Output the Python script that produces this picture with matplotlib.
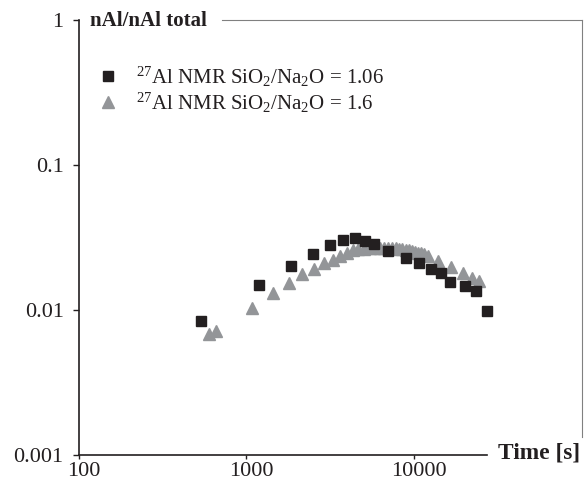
import matplotlib
matplotlib.use('Agg')
import matplotlib.pyplot as plt
import matplotlib.transforms as mtransforms
from matplotlib.lines import Line2D

plt.rcParams['font.family'] = 'Liberation Serif'
plt.rcParams['mathtext.fontset'] = 'custom'
plt.rcParams['mathtext.rm'] = 'Liberation Serif'
plt.rcParams['mathtext.it'] = 'Liberation Serif:italic'
plt.rcParams['mathtext.bf'] = 'Liberation Serif:bold'

# SiO2/Na2O = 1.06 (squares)
t_106 = [534, 1191, 1849, 2506, 3177, 3802, 4467, 5120, 5794, 7056,
         9016, 10770, 12650, 14580, 16510, 20110, 23610, 27230]
n_106 = [0.00834, 0.01486, 0.0201, 0.0243, 0.0279, 0.0306, 0.0314, 0.0299, 0.0287, 0.0256,
         0.0230, 0.0210, 0.0191, 0.0180, 0.0156, 0.01455, 0.0136, 0.00982]

# SiO2/Na2O = 1.6 (triangles)
t_16 = [596, 659, 1087, 1439, 1791, 2152, 2529, 2903, 3283, 3630, 4015, 4363,
        4677, 5075, 5484, 5875, 6295, 6677, 7058, 7460, 7818, 8183, 8560, 8970,
        9385, 9733, 10190, 10660, 11070, 11580, 12190,
        13870, 16670, 19560, 22440, 24500]
n_16 = [0.00678, 0.00711, 0.0103, 0.0130, 0.01533, 0.0177, 0.0193, 0.0212, 0.0222, 0.0236, 0.0247, 0.0258,
        0.0262, 0.0264, 0.0266, 0.0268, 0.0268, 0.0268, 0.0268, 0.0266, 0.0266, 0.0264, 0.0262, 0.0260,
        0.0258, 0.0256, 0.0252, 0.0248, 0.0246, 0.0242, 0.0236,
        0.0218, 0.0198, 0.0181, 0.0167, 0.0158]

lbl_106 = r'$^{27}$Al NMR SiO$_2$/Na$_2$O = 1.06'
lbl_16 = r'$^{27}$Al NMR SiO$_2$/Na$_2$O = 1.6'

W, H = 587, 484
fig = plt.figure(figsize=(W / 100, H / 100), dpi=100)
ax = fig.add_axes([79 / W, 1 - 455 / H, (487 - 79) / W, (455 - 20) / H])

ax.plot(t_16, n_16, linestyle='none', marker='^', ms=8, color='#939598',
        mec='#939598', clip_on=False, label=lbl_16)
ax.plot(t_106, n_106, linestyle='none', marker='s', ms=6.5, color='#231f20',
        mec='#231f20', clip_on=False, label=lbl_106)

ax.set_xscale('log')
ax.set_yscale('log')
ax.set_xlim(100, 27400)
ax.set_ylim(0.001, 1)
ax.set_xticks([100, 1000, 10000])
ax.set_xticklabels(['100', '1000', '10000'])
ax.set_yticks([0.001, 0.01, 0.1, 1])
ax.set_yticklabels(['0.001', '0.01', '0.1', '1'])
ax.minorticks_off()
ax.tick_params(direction='out', width=1, labelsize=16, colors='#231f20')
ax.tick_params(axis='y', length=4, pad=7)
ax.tick_params(axis='x', length=3, pad=2)

# x labels sit a little right of their ticks
shift = mtransforms.ScaledTranslation(5 / 100, 0, fig.dpi_scale_trans)
for lab in ax.get_xticklabels():
    lab.set_transform(lab.get_transform() + shift)

for s in ['top', 'right']:
    ax.spines[s].set_visible(False)
for s in ['left', 'bottom']:
    ax.spines[s].set_color('#231f20')
    ax.spines[s].set_linewidth(1.2)

# chart frame (thin gray)
fig.add_artist(Line2D([222 / W, 582 / W], [1 - 20 / H, 1 - 20 / H], color='#808080', lw=0.8))
fig.add_artist(Line2D([582 / W, 582 / W], [1 - 20 / H, 1 - 437 / H], color='#808080', lw=0.8))

fig.text(90 / W, 1 - 21 / H, 'nAl/nAl total', fontsize=15, fontweight='bold',
         va='center', ha='left', color='#231f20')
fig.text(498 / W, 1 - 453 / H, 'Time [s]', fontsize=16.8, fontweight='bold',
         va='center', ha='left', color='#231f20')

h, l = ax.get_legend_handles_labels()
ax.legend(h[::-1], l[::-1], loc='upper left', bbox_to_anchor=(90 / W, 1 - 54 / H),
          bbox_transform=fig.transFigure, frameon=False, fontsize=15,
          handletextpad=1.0, labelspacing=0.1, handlelength=0.7, borderpad=0,
          labelcolor='#231f20')

fig.savefig('out.png', dpi=100)
